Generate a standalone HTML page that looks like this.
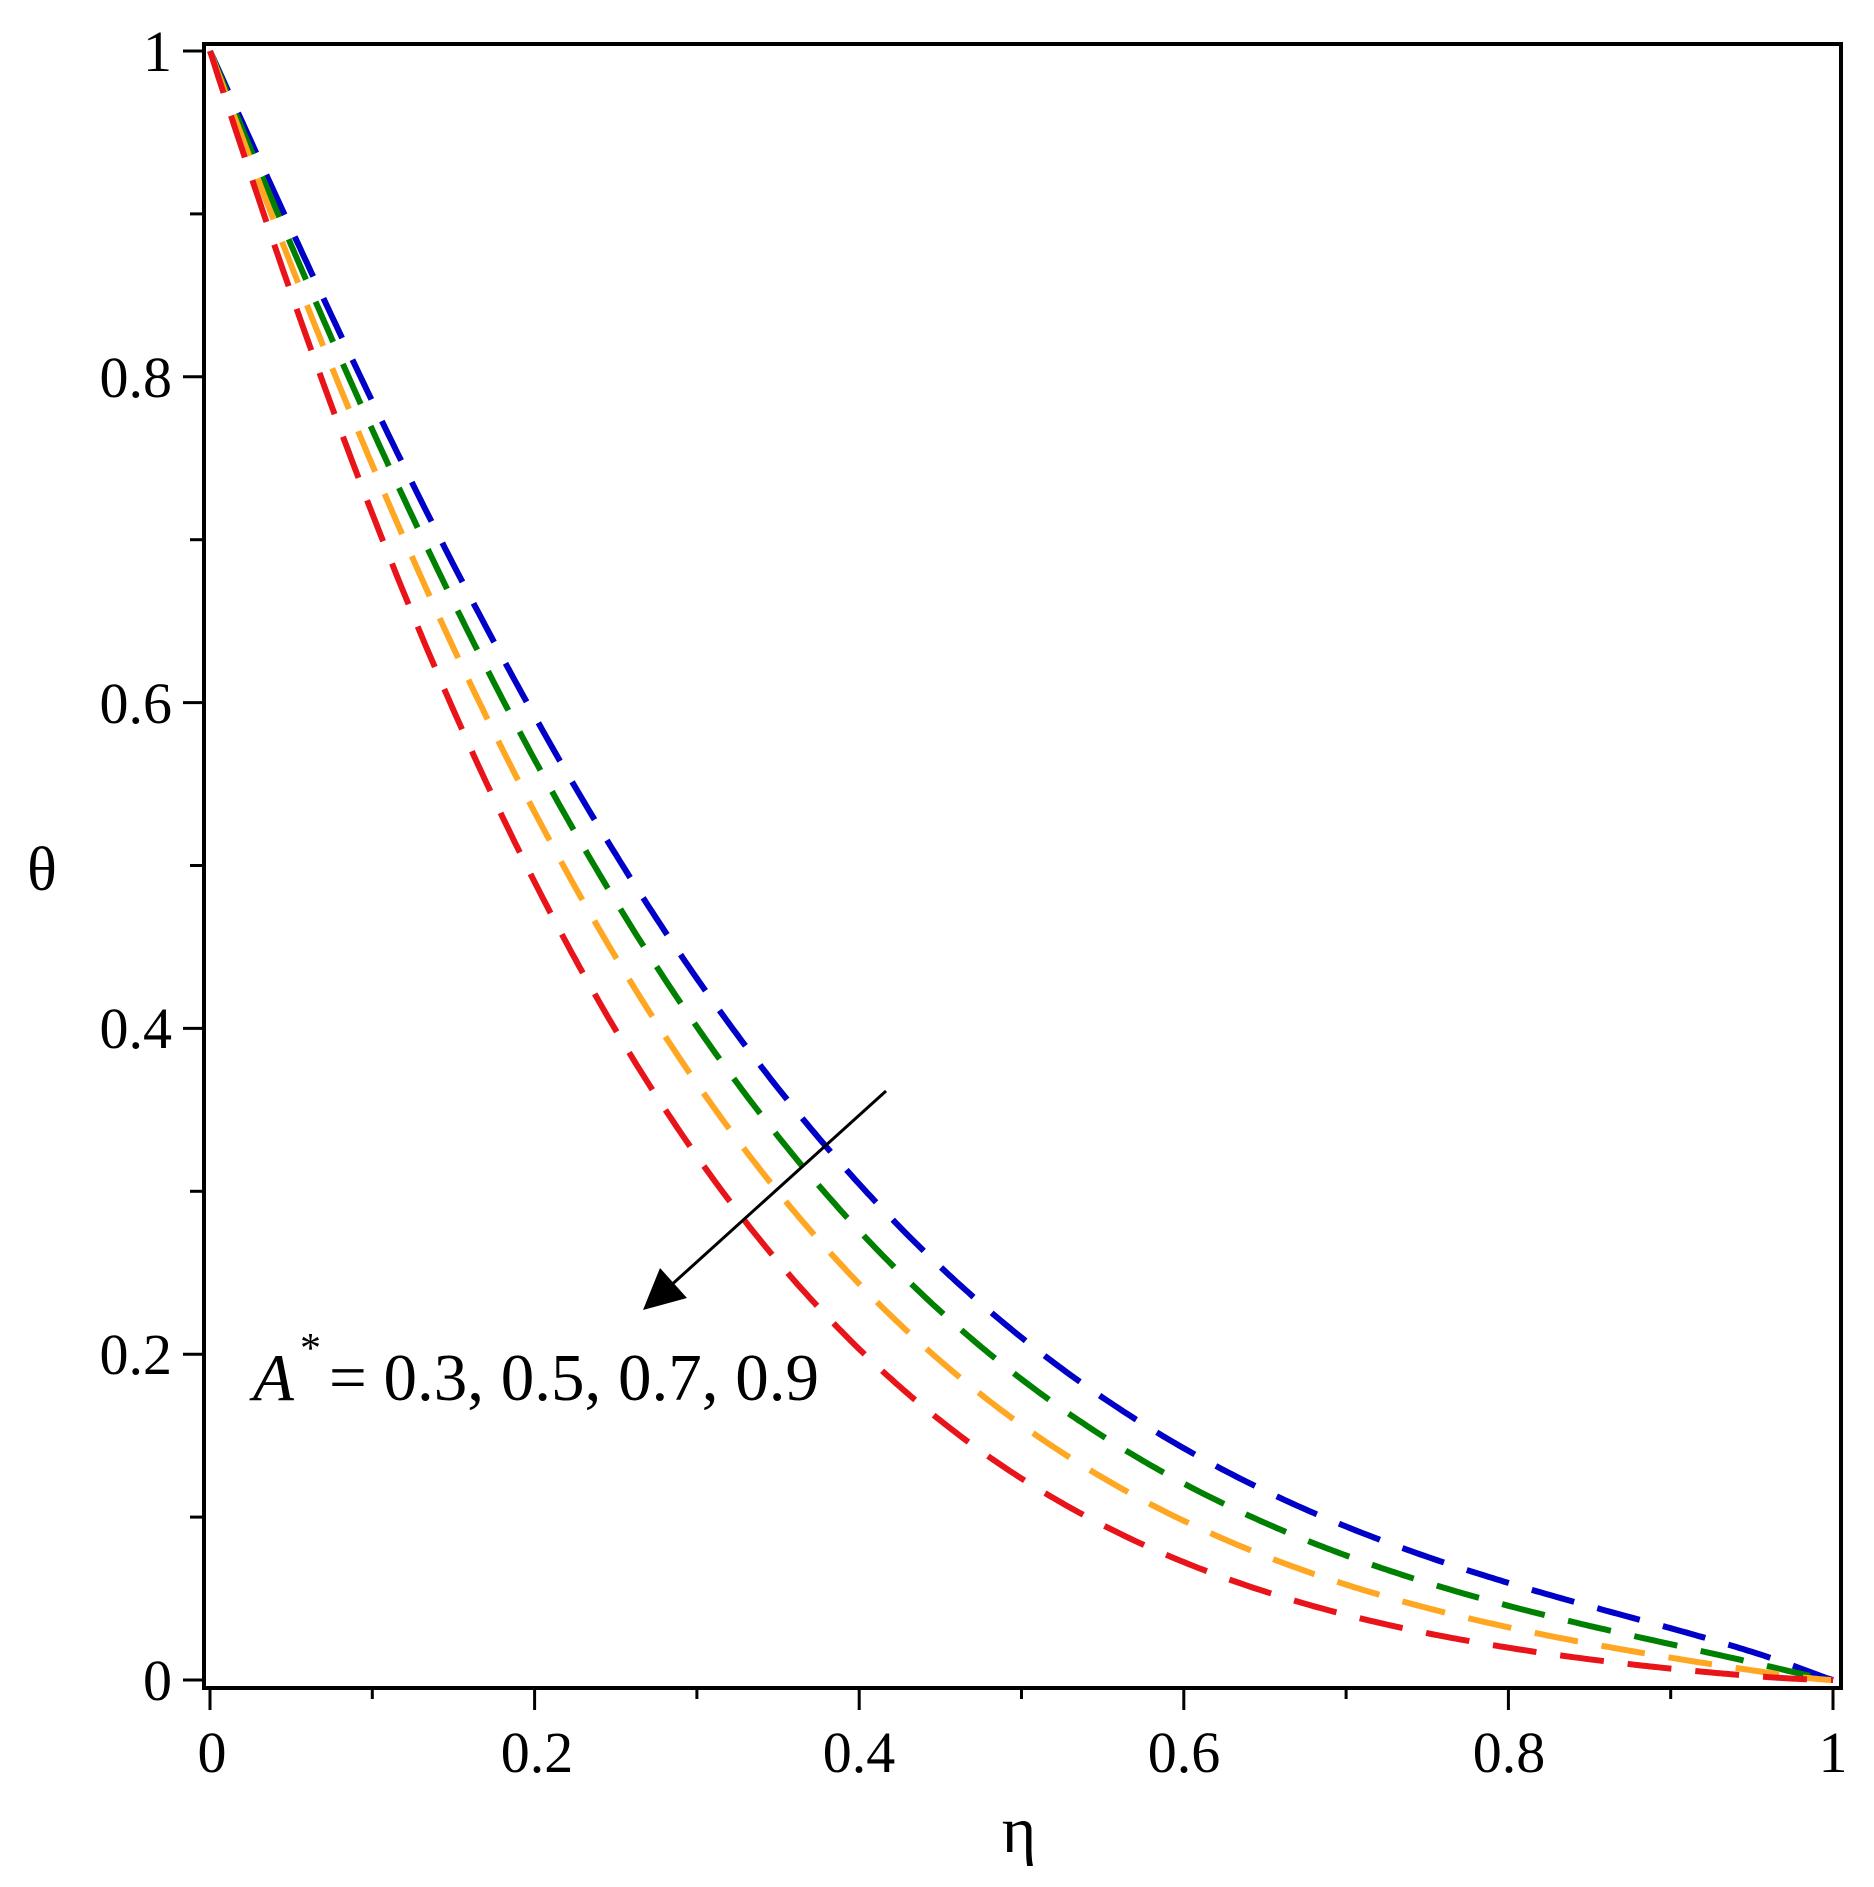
<!DOCTYPE html>
<html><head><meta charset="utf-8"><style>
html,body{margin:0;padding:0;background:#fff;}
svg{display:block;}
text{font-family:"Liberation Serif","Times New Roman",serif;fill:#000;}
</style></head><body>
<svg id="s" width="1874" height="1887" viewBox="0 0 1874 1887" xmlns="http://www.w3.org/2000/svg">
<rect x="0" y="0" width="1874" height="1887" fill="#fff"/>
<g id="curves" fill="none" stroke-width="6" stroke-dasharray="44 24"></g>
<rect x="204" y="44" width="1637" height="1644" fill="none" stroke="#000" stroke-width="4"/>
<g id="ticks" stroke="#000" stroke-width="3"></g>
<g font-size="58" text-anchor="end">
<text x="172" y="71">1</text>
<text x="172" y="397">0.8</text>
<text x="172" y="723">0.6</text>
<text x="172" y="1048">0.4</text>
<text x="172" y="1374">0.2</text>
<text x="172" y="1700">0</text>
</g>
<g font-size="58" text-anchor="middle">
<text x="212" y="1772">0</text>
<text x="537" y="1772">0.2</text>
<text x="859" y="1772">0.4</text>
<text x="1184" y="1772">0.6</text>
<text x="1509" y="1772">0.8</text>
<text x="1833" y="1772">1</text>
</g>
<text x="1019" y="1852" font-size="66" text-anchor="middle">η</text>
<text x="42" y="890" font-size="62" text-anchor="middle">θ</text>
<line x1="886" y1="1091" x2="668" y2="1288" stroke="#000" stroke-width="3"/>
<polygon points="643,1310 660,1268 687,1298" fill="#000"/>
<text x="253" y="1400" font-size="67"><tspan font-style="italic">A</tspan><tspan font-size="42" dy="-38" dx="6">*</tspan><tspan dy="38" dx="8">= 0.3, 0.5, 0.7, 0.9</tspan></text>
</svg>
<script>
var ns="http://www.w3.org/2000/svg";
function X(e){return 210+1623*e;}function Y(t){return 1680-1629*t;}
function nb(e){return 2.2+1.2*e-2.2*e*e;}
var g=document.getElementById('curves');
var cs=[["#0000c8",0],["#008000",0.22],["#ffa722",0.5],["#e8141a",0.9]];
cs.forEach(function(c){var d="";for(var i=0;i<=400;i++){var e=i/400;var n=nb(e)+c[1]*(1-0.3*e);var t=Math.pow(1-e,n);d+=(i?"L":"M")+X(e).toFixed(1)+","+Y(t).toFixed(1);}
var p=document.createElementNS(ns,"path");p.setAttribute("d",d);p.setAttribute("stroke",c[0]);g.appendChild(p);});
var tk=document.getElementById('ticks');
function L(a,b,c,d){var l=document.createElementNS(ns,"line");l.setAttribute("x1",a);l.setAttribute("y1",b);l.setAttribute("x2",c);l.setAttribute("y2",d);tk.appendChild(l);}
for(var i=0;i<=10;i++){var y=Y(i/10);L(i%2?190:183,y,203,y);var x=X(i/10);L(x,1690,x,i%2?1699:1710);}
</script>
</body></html>
